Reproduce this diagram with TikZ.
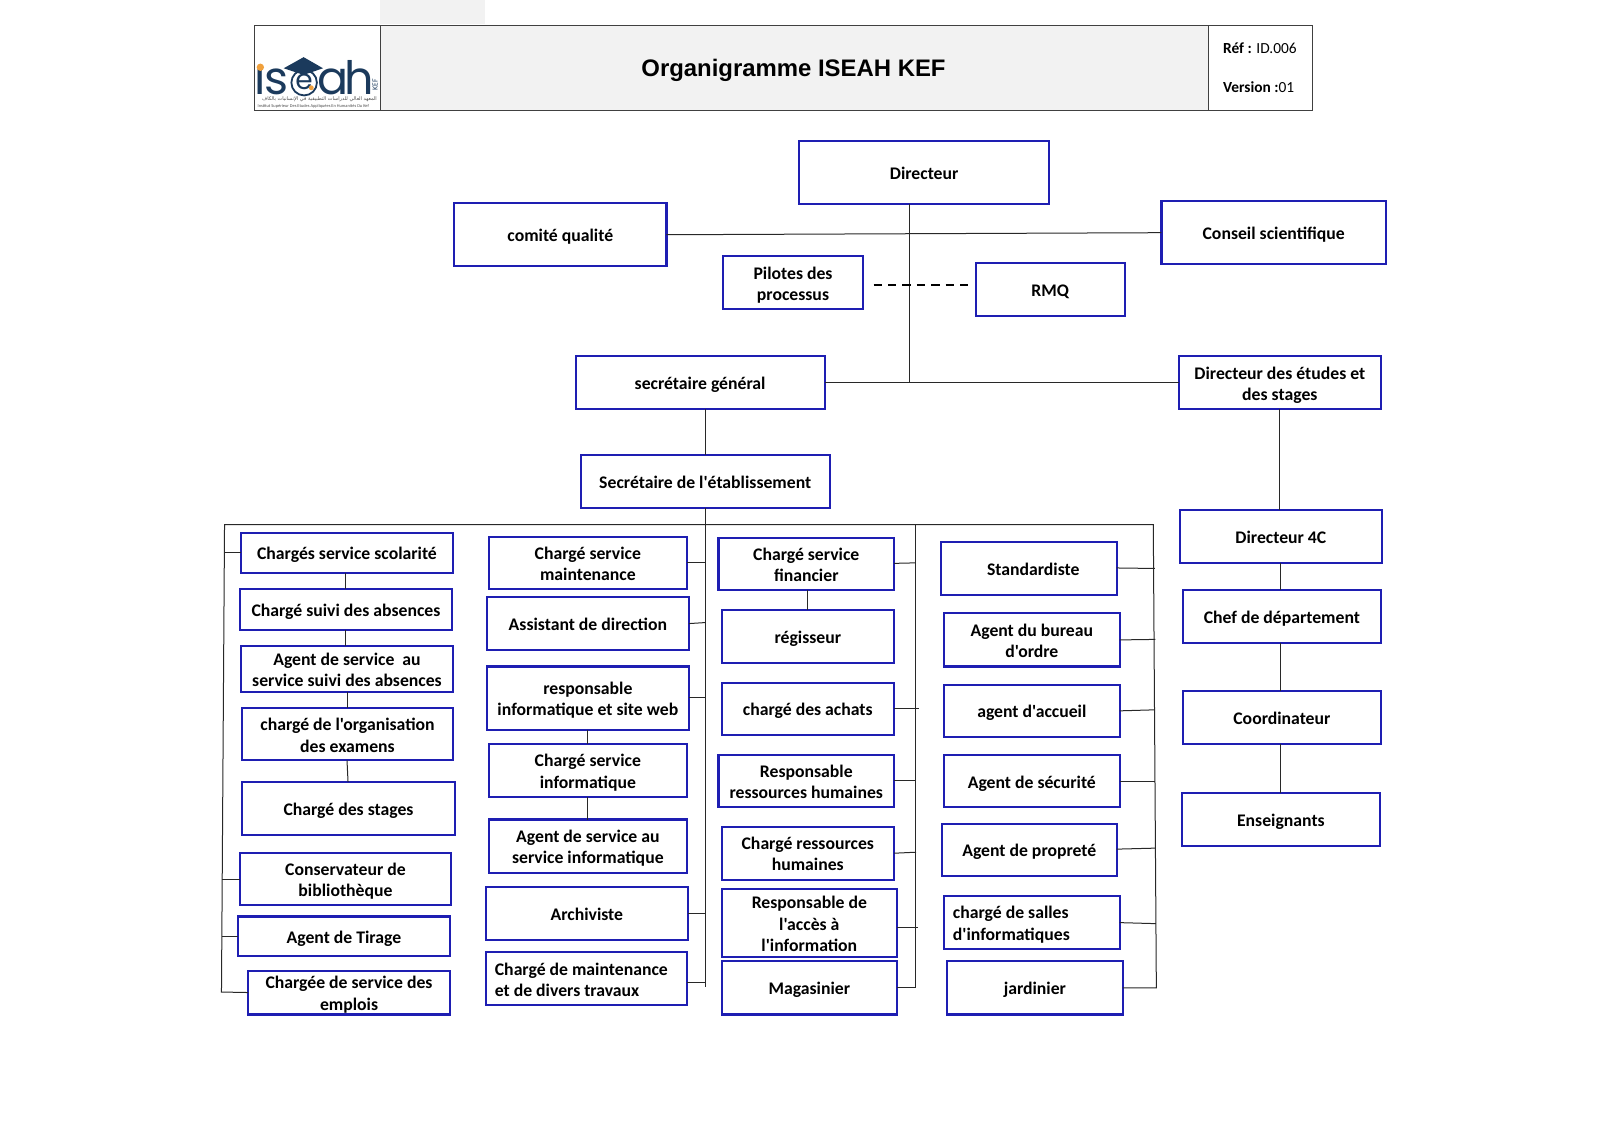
\documentclass[tikz,border=0pt]{standalone}
\usepackage{fontspec}
\setmainfont{Carlito}[Ligatures=TeXOff]
\newfontfamily\titlefont{Liberation Sans}
\newfontfamily\logofont{Poppins}
\newfontfamily\arabicfont[Script=Arabic]{DejaVu Sans}
\TeXXeTstate=1
\definecolor{boxblue}{RGB}{30,30,178}
\definecolor{wire}{RGB}{40,40,40}
\definecolor{headgrey}{RGB}{242,242,242}
\definecolor{navy}{RGB}{27,58,92}
\definecolor{logoorange}{RGB}{240,160,60}
\tikzset{
  bx/.style={draw=boxblue,line width=1.05pt,fill=white,inner sep=0pt,outer sep=0pt,align=center,font=\fontsize{8.85}{10.7}\selectfont\bfseries},
  wireline/.style={draw=wire,line width=0.5pt},
  frameline/.style={draw=black!75,line width=0.55pt},
  logoletter/.style={anchor=base,text=navy,font=\logofont\fontsize{23}{23}\selectfont,inner sep=0pt}
}
\newcommand{\bstrutA}{\rule{0pt}{9pt}}
\newcommand{\bstrutB}{\rule[-2pt]{0pt}{2pt}}
\newcommand{\bx}[6]{%
  \pgfmathsetmacro{\bw}{(#4-#2)*0.5103}%
  \pgfmathsetmacro{\bh}{(#5-#3)*0.5103}%
  \node[bx,minimum width=\bw pt,minimum height=\bh pt] (#1) at ({(#2+#4)/2},{(#3+#5)/2}) {\bstrutA#6\bstrutB};}
\begin{document}
\begin{tikzpicture}[x=0.5103pt,y=-0.5103pt]
\useasboundingbox (0,0) rectangle (1567.7,1107.2);
% header
\fill[headgrey] (372,0) rectangle (475,24);
\fill[headgrey] (373,25) rectangle (1184,108);
\draw[frameline] (249,25) rectangle (1286,108);
\draw[frameline] (373,25) -- (373,108);
\draw[frameline] (1184,25) -- (1184,108);
\node[font=\titlefont\bfseries\fontsize{11.95}{14}\selectfont,text=black] (title) at (777.5,68.5) {Organigramme ISEAH KEF};
\node[anchor=west,inner sep=0pt,font=\fontsize{7.7}{9}\selectfont] (ref) at (1198,47.5) {\textbf{Réf :} ID.006};
\node[anchor=west,inner sep=0pt,font=\fontsize{7.7}{9}\selectfont] (ver) at (1198,85.5) {\textbf{Version :}01};
% logo
\node[logoletter] (lgi) at (255,92.5) {ı};
\fill[logoorange] (255.1,65.9) circle (3.6);
\node[logoletter] (lgs) at (270.5,92.5) {s};
\draw[navy,line width=0.9pt] (298,81) circle (12.5);
\node[anchor=base,text=navy,font=\logofont\fontsize{14}{14}\selectfont,inner sep=0pt] (lge) at (298,88) {e};
\fill[navy] (278,66.9) -- (297.5,56) -- (316.5,66.9) -- (297.5,73.4) -- cycle;
\fill[logoorange] (305,86) circle (2.4);
\node[logoletter] (lga) at (326.5,92.5) {a};
\node[logoletter] (lgh) at (352,92.5) {h};
\node[rotate=90,text=navy,font=\logofont\fontsize{3.6}{4}\selectfont,inner sep=0pt] (lgk) at (367.5,83) {KEF};
\node[text=black!70,font=\arabicfont\fontsize{2.5}{2.6}\selectfont,inner sep=0pt] (lgar) at (313,96.8) {\beginR المعهد العالي للدراسات التطبيقية في الإنسانيات بالكاف\endR};
\node[text=black!70,font=\fontsize{2.2}{2.4}\selectfont,inner sep=0pt] (lgla) at (307,104) {Institut Supérieur Des Etudes Appliquées En Humanités Du Kef};
% top boxes
\bx{dir}{783}{138}{1028}{200}{Directeur}
\bx{cq}{445}{199}{653}{261}{comité qualité}
\bx{cs}{1138}{197}{1358}{259}{Conseil scientifique}
\bx{pil}{708}{251}{846}{303}{Pilotes des\\processus}
\bx{rmq}{956}{258}{1102}{310}{RMQ}
\bx{sg}{564}{349}{808}{401}{secrétaire général}
\bx{de}{1155}{349}{1353}{401}{Directeur des études et\\des stages}
\bx{se}{569}{446}{813}{498}{Secrétaire de l'établissement}
\bx{d4}{1156}{500}{1354}{552}{Directeur 4C}
\bx{cd}{1159}{578}{1353}{630}{Chef de département}
\bx{co}{1159}{677}{1353}{729}{Coordinateur}
\bx{en}{1158}{777}{1352}{829}{Enseignants}
% column 1
\bx{a1}{236}{522}{444}{561}{Chargés service scolarité}
\bx{a2}{235}{577}{443}{617}{Chargé suivi des absences}
\bx{a3}{236}{633}{444}{678}{Agent de service\ \ au\\service suivi des absences}
\bx{a4}{237}{694}{444}{745}{chargé de l'organisation\\des examens}
\bx{a5}{237}{766}{446}{818}{Chargé des stages}
\bx{a6}{235}{836}{442}{887}{Conservateur de\\bibliothèque}
\bx{a7}{233}{898}{441}{937}{Agent de Tirage}
\bx{a8}{243}{951}{441}{994}{Chargée de service des\\emplois}
% column 2
\bx{b1}{479}{526}{673}{577}{Chargé service\\maintenance}
\bx{b2}{477}{585}{675}{637}{Assistant de direction}
\bx{b3}{477}{653}{675}{715}{responsable\\informatique et site web}
\bx{b4}{479}{729}{673}{781}{Chargé service\\informatique}
\bx{b5}{479}{803}{673}{855}{Agent de service au\\service informatique}
\bx{b6}{476}{869}{674}{921}{Archiviste}
{\tikzset{bx/.append style={align=left}}\bx{b7}{476}{933}{673}{985}{Chargé de maintenance\hspace*{5pt}\\et de divers travaux}}
% column 3
\bx{c1}{704}{527}{876}{578}{Chargé service\\financier}
\bx{c2}{707}{598}{876}{650}{régisseur}
\bx{c3}{707}{669}{876}{720}{chargé des achats}
\bx{c4}{704}{740}{876}{791}{Responsable\\ressources humaines}
\bx{c5}{707}{810}{876}{862}{Chargé ressources\\humaines}
\bx{c6}{707}{871}{879}{938}{Responsable de\\l'accès à\\l'information}
\bx{c7}{707}{942}{879}{994}{Magasinier}
% column 4
\bx{e1}{922}{531}{1094}{583}{\hspace*{4.5pt}Standardiste}
\bx{e2}{925}{601}{1097}{653}{Agent du bureau\\d'ordre}
\bx{e3}{925}{671}{1097}{722}{agent d'accueil}
\bx{e4}{925}{740}{1097}{791}{Agent de sécurité}
\bx{e5}{923}{807}{1094}{858}{Agent de propreté}
{\tikzset{bx/.append style={align=left}}\bx{e6}{925}{878}{1097}{930}{chargé de salles\hspace*{21pt}\\d'informatiques}}
\bx{e7}{928}{942}{1100}{994}{jardinier}
% bus corners
\coordinate (bustl) at (220,514);
\coordinate (bustr) at (1130,514);
\coordinate (busbl) at (217,972);
\coordinate (busbr) at (1133,968);
\coordinate (busm) at (897,514);
\coordinate (busmb) at (897,968);
\coordinate (trunkb) at (691,967);
\coordinate (dasha) at (856,279);
\coordinate (dashb) at (949,279);
\coordinate (jdir) at (891,375);
% wires
\draw[wireline] (891,0 |- dir.south) -- (jdir);
\draw[wireline] (cq.east |- 0,230) -- (cs.west |- 0,228);
\draw[wireline] (sg.east) -- (de.west);
\draw[black,line width=1pt,dash pattern=on 4.2pt off 3pt] (dasha) -- (dashb);
\draw[wireline] (691,0 |- sg.south) -- (691,0 |- se.north);
\draw[wireline] (691,0 |- se.south) -- (trunkb);
\draw[wireline] (a8.west) -- (busbl) -- (bustl) -- (bustr) -- (busbr) -- (e7.east |- busbr);
\draw[wireline] (busm) -- (busmb) -- (c7.east |- busmb);
% column 1 wires
\draw[wireline] (219.8,0 |- a1.west) -- (a1.west);
\draw[wireline] (218,0 |- a6.west) -- (a6.west);
\draw[wireline] (218,0 |- a7.west) -- (a7.west);
\draw[wireline] (339,0 |- a1.south) -- (339,0 |- a2.north);
\draw[wireline] (339,0 |- a2.south) -- (339,0 |- a3.north);
\draw[wireline] (340,0 |- a3.south) -- (340,0 |- a4.north);
\draw[wireline] (340,0 |- a4.south) -- (341,0 |- a5.north);
% column 2 wires
\draw[wireline] (b1.east |- 0,551) -- (691,551);
\draw[wireline] (b2.east |- 0,611) -- (691,610);
\draw[wireline] (b3.east |- 0,683) -- (692,683);
\draw[wireline] (576,0 |- b3.south) -- (576,0 |- b4.north);
\draw[wireline] (576,0 |- b4.south) -- (576,0 |- b5.north);
\draw[wireline] (b6.east |- 0,895) -- (691,895);
\draw[wireline] (b7.east |- 0,963) -- (691,963);
% column 3 wires
\draw[wireline] (c1.east |- 0,552) -- (897,551.5);
\draw[wireline] (791.5,0 |- c1.south) -- (791.5,0 |- c2.north);
\draw[wireline] (c3.east |- 0,694) -- (900,694);
\draw[wireline] (c4.east |- 0,765) -- (897.5,765);
\draw[wireline] (c5.east |- 0,836) -- (897.5,835);
\draw[wireline] (c6.east |- 0,909) -- (899,909);
% column 4 wires
\draw[wireline] (e1.east |- 0,556.5) -- (1131.5,557);
\draw[wireline] (e2.east |- 0,627) -- (1132,626.5);
\draw[wireline] (e3.east |- 0,696.5) -- (1131.5,695.5);
\draw[wireline] (e4.east |- 0,765.5) -- (1132,765.5);
\draw[wireline] (e5.east |- 0,832) -- (1132.5,831);
\draw[wireline] (e6.east |- 0,904) -- (1132.5,905);
% right column wires
\draw[wireline] (1254,0 |- de.south) -- (1254,0 |- d4.north);
\draw[wireline] (1255,0 |- d4.south) -- (1255,0 |- cd.north);
\draw[wireline] (1255,0 |- cd.south) -- (1255,0 |- co.north);
\draw[wireline] (1255,0 |- co.south) -- (1255,0 |- en.north);
\end{tikzpicture}
\end{document}
